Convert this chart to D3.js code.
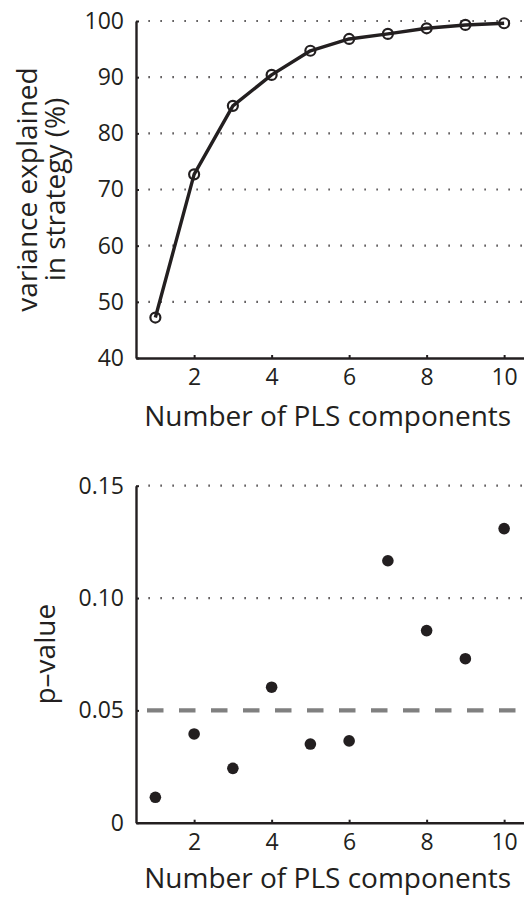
<!DOCTYPE html>
<html>
<head>
<meta charset="utf-8">
<script src="https://cdn.jsdelivr.net/npm/d3@7"></script>
<style>
  html, body { margin: 0; padding: 0; background: #fff; }
  svg { display: block; }
  text { font-family: "Open Sans", "Noto Sans", sans-serif; fill: #231f20; }
</style>
</head>
<body>
<svg id="chart" width="524" height="897"></svg>
<script>
// ---- data ----
const components = [1, 2, 3, 4, 5, 6, 7, 8, 9, 10];
const varianceExplained = [47.2, 72.7, 84.9, 90.4, 94.7, 96.8, 97.7, 98.7, 99.3, 99.6];
const pValues = [0.0113, 0.0395, 0.0242, 0.0603, 0.035, 0.0364, 0.1166, 0.0855, 0.073, 0.1309];
const xTicks = [2, 4, 6, 8, 10];
const topYTicks = [40, 50, 60, 70, 80, 90, 100];
const bottomYTicks = [0, 0.05, 0.10, 0.15];
const bottomYTickLabels = ["0", "0.05", "0.10", "0.15"];
const threshold = 0.05;
const xLabel = "Number of PLS components";
const topYLabel = ["variance explained", "in strategy (%)"];
const bottomYLabel = "p\u2013value";

// ---- layout ----
const ink = "#231f20";
const svg = d3.select("#chart");
const left = 136, right = 523.5;

function xScale() { return d3.scaleLinear().domain([0.5, 10.5]).range([left, right]); }

function drawPanel(g, x, y, yTicks, yFmt, gridVals, labelOffset) {
  // grid
  g.append("g").selectAll("line").data(gridVals).join("line")
    .attr("x1", x(0.5) + 12.5).attr("x2", 524)
    .attr("y1", d => y(d)).attr("y2", d => y(d))
    .attr("stroke", ink).attr("stroke-width", 2.2)
    .attr("stroke-dasharray", "1.2,10.8");
  const yAxis = g.append("g").attr("transform", `translate(${left},0)`)
    .call(d3.axisLeft(y).tickValues(yTicks).tickFormat(yFmt).tickSizeInner(-3).tickSizeOuter(0).tickPadding(12));
  const xAxis = g.append("g").attr("transform", `translate(0,${y.range()[0]})`)
    .call(d3.axisBottom(x).tickValues(xTicks).tickFormat(d3.format("d")).tickSizeInner(-3).tickSizeOuter(0).tickPadding(11));
  [yAxis, xAxis].forEach(a => {
    a.select(".domain").attr("stroke", ink).attr("stroke-width", 2.4);
    a.selectAll(".tick line").attr("stroke", ink).attr("stroke-width", 2);
    a.selectAll(".tick text").attr("font-size", 23).attr("fill", ink)
      .style("font-family", '"Open Sans", sans-serif');
  });
  g.append("text").attr("x", (left + right) / 2 - 2).attr("y", y.range()[0] + labelOffset)
    .attr("text-anchor", "middle").attr("font-size", 28).text(xLabel);
}

// ---- top panel ----
const x1 = xScale();
const y1 = d3.scaleLinear().domain([40, 100]).range([358, 21]);
const gTop = svg.append("g");
drawPanel(gTop, x1, y1, topYTicks, d3.format("d"), topYTicks.filter(d => d > 40), 68);
gTop.append("path").datum(components.map((c, i) => [c, varianceExplained[i]]))
  .attr("d", d3.line().x(d => x1(d[0])).y(d => y1(d[1])))
  .attr("fill", "none").attr("stroke", ink).attr("stroke-width", 3.4).attr("stroke-linejoin", "round");
gTop.append("g").selectAll("circle").data(components).join("circle")
  .attr("cx", d => x1(d)).attr("cy", (d, i) => y1(varianceExplained[i]))
  .attr("r", 5).attr("fill", "none").attr("stroke", ink).attr("stroke-width", 2.2);
const ylab1 = gTop.append("text")
  .attr("transform", `translate(27,${(y1.range()[0] + y1.range()[1]) / 2}) rotate(-90)`)
  .attr("text-anchor", "middle").attr("font-size", 28);
ylab1.append("tspan").attr("x", 0).attr("dy", "0.35em").text(topYLabel[0]);
ylab1.append("tspan").attr("x", 0).attr("dy", 28).text(topYLabel[1]);

// ---- bottom panel ----
const x2 = xScale();
const y2 = d3.scaleLinear().domain([0, 0.15]).range([822.7, 485.7]);
const gBot = svg.append("g");
drawPanel(gBot, x2, y2, bottomYTicks, (d, i) => bottomYTickLabels[i], [0.10, 0.15], 65);
gBot.append("line")
  .attr("x1", x2(0.5) + 11).attr("x2", 524)
  .attr("y1", y2(threshold)).attr("y2", y2(threshold))
  .attr("stroke", "#808080").attr("stroke-width", 4.3)
  .attr("stroke-dasharray", "16.5,15.5");
gBot.append("g").selectAll("circle").data(components).join("circle")
  .attr("cx", d => x2(d)).attr("cy", (d, i) => y2(pValues[i]))
  .attr("r", 5.8).attr("fill", ink);
gBot.append("text")
  .attr("transform", `translate(45,${(y2.range()[0] + y2.range()[1]) / 2}) rotate(-90)`)
  .attr("text-anchor", "middle").attr("dy", "0.35em").attr("font-size", 28).text(bottomYLabel);
</script>
</body>
</html>
